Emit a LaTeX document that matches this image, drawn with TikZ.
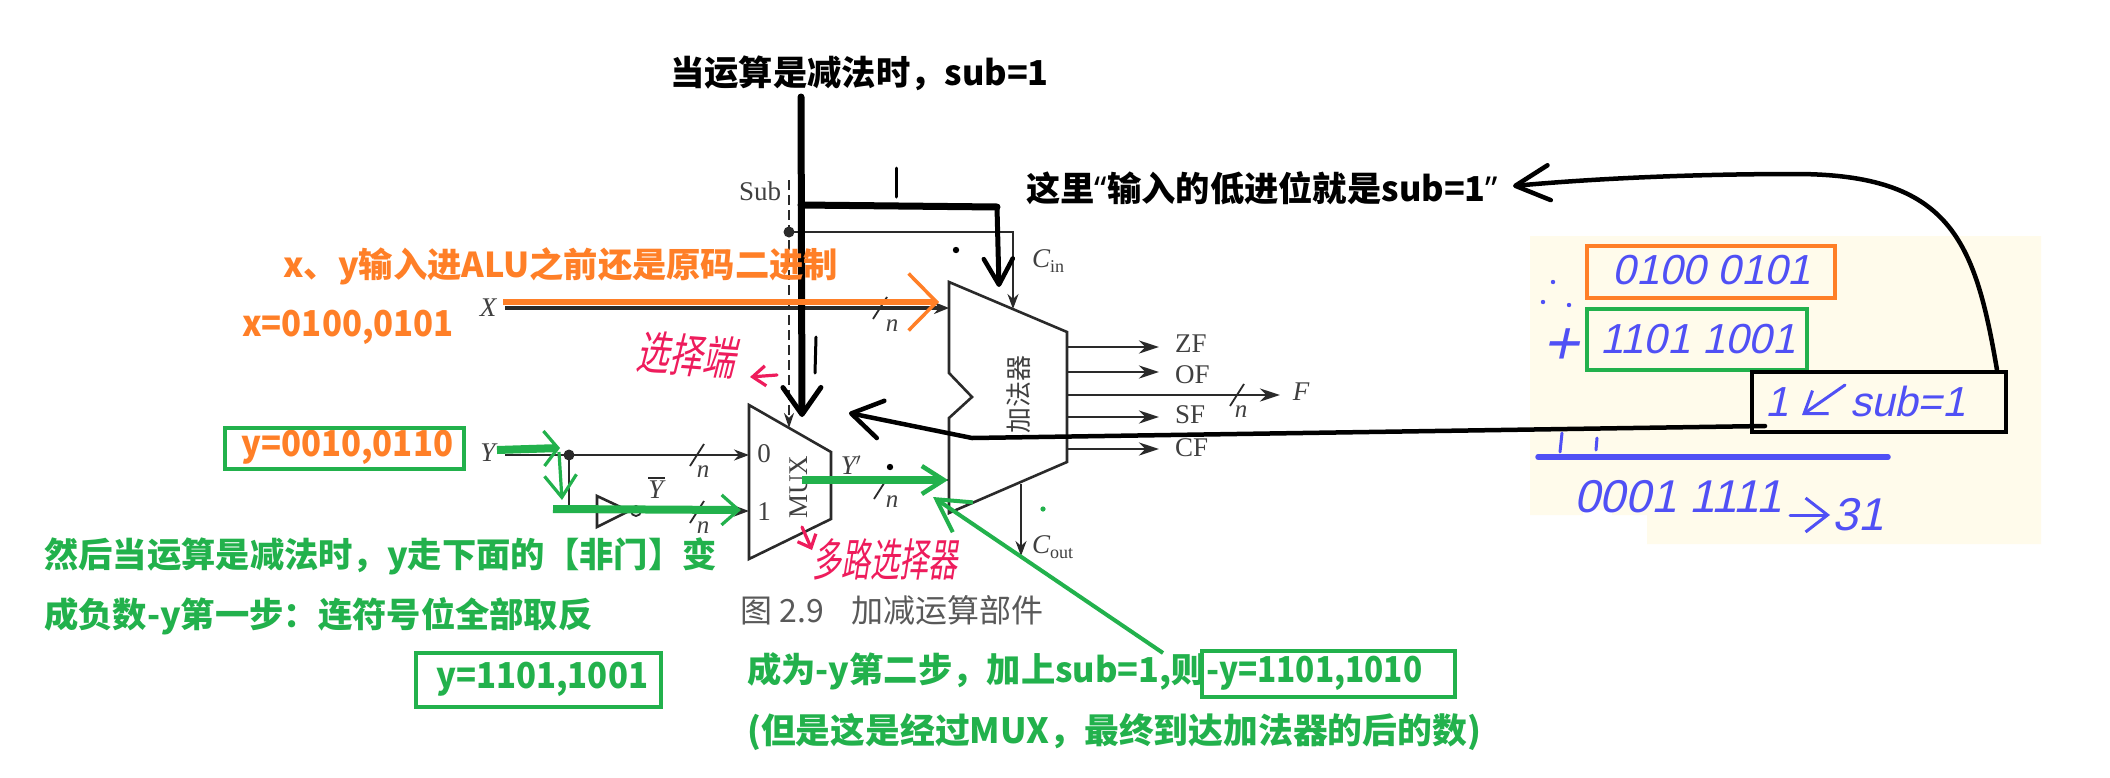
\documentclass[tikz,border=0pt]{standalone}
\usepackage{fontspec}
\usetikzlibrary{arrows.meta}
\newfontfamily\yh{Noto Sans CJK SC}
\newfontfamily\yhslant[FakeSlant=0.25]{Noto Sans CJK SC}
\newfontfamily\hand[FakeSlant=0.22]{Liberation Sans}
\newfontfamily\serifl{Liberation Serif}
\newcommand{\fsz}[1]{\fontsize{#1}{#1}\selectfont}
\newcommand{\nrw}[2]{\scalebox{#1}[1.04]{#2}}
\definecolor{ora}{HTML}{FF7F27}
\definecolor{grn}{HTML}{22B14C}
\definecolor{blu}{HTML}{5050F5}
\definecolor{rd}{HTML}{EE1C5C}
\definecolor{crm}{HTML}{FFFBEB}
\definecolor{wirec}{HTML}{2A2A2A}
\tikzset{
  wire/.style={draw=wirec,line width=1.8pt},
  wirearrow/.style={wire,-{Stealth[length=15pt,width=11pt]}},
  shapeline/.style={draw=wirec,line width=2.6pt,line join=miter},
  lbl/.style={inner sep=0pt,font=\serifl\fsz{27},text=black!75},
  lbli/.style={inner sep=0pt,font=\serifl\itshape\fsz{27},text=black!75},
  nlabel/.style={inner sep=0pt,font=\serifl\itshape\fsz{25},text=black!75},
  zh/.style={inner sep=0pt,anchor=west,font=\yh\bfseries\fsz{34.3}},
  handtext/.style={inner sep=0pt,text=blu,font=\hand\fsz{42}},
  bstroke/.style={draw=black,line width=#1,line cap=round,line join=round},
  gbox/.style={draw=grn,line width=4.5pt},
  blueline/.style={draw=blu,line width=3pt,line cap=round,line join=round},
  redline/.style={draw=rd,line width=3.2pt,line cap=round,line join=round},
  redtext/.style={inner sep=0pt,text=rd,transform shape}
}
\begin{document}
\begin{tikzpicture}[x=1pt,y=-1pt]
\useasboundingbox (0,0) rectangle (2110,777);
\fill[white] (0,0) rectangle (2110,777);
% cream note background
\fill[crm] (1530,236) -- (2041,236) -- (2041,544) -- (1647,544) -- (1647,515) -- (1612,515) -- (1612,510) -- (1583,510) -- (1583,515) -- (1530,515) -- cycle;

% ---- coordinates of the printed circuit
\coordinate (subtop) at (789,180);
\coordinate (subdot) at (789,232);
\coordinate (cincorner) at (1013,232);
\coordinate (cintip) at (1013,309);
\coordinate (muxin) at (789,428);
\coordinate (xstart) at (505,308);
\coordinate (xend) at (949,308);
\coordinate (ystart) at (505,455);
\coordinate (ydot) at (569,455);
\coordinate (mux0) at (749,455);
\coordinate (ybend) at (569,511);
\coordinate (invin) at (597,511);
\coordinate (invout) at (643,511);
\coordinate (mux1) at (749,511);
\coordinate (muxout) at (831,480);
\coordinate (addin) at (949,480);
\coordinate (coutstart) at (1021,484);
\coordinate (couttip) at (1021,556);

% adder and mux
\draw[shapeline] (949,282) -- (1067,332) -- (1067,462) -- (949,513) -- (949,418) -- (972,397) -- (949,373) -- cycle;
\draw[shapeline] (749,405) -- (831,452) -- (831,519) -- (749,559) -- cycle;
\draw[shapeline] (597,496) -- (629,511) -- (597,527) -- cycle;
\draw[wire,fill=white] (636,511) circle (5);

% wires
\draw[wire,dashed,dash pattern=on 10pt off 5pt,-{Stealth[length=15pt,width=10pt]}] (subtop) -- (muxin);
\fill[wirec] (subdot) circle (5.5);
\draw[wirearrow] (subdot) -- (cincorner) -- (cintip);
\draw[wirec,line width=3.4pt,-{Stealth[length=15pt,width=12pt]}] (xstart) -- (xend);
\draw[wirearrow] (ystart) -- (mux0);
\fill[wirec] (ydot) circle (5.5);
\draw[wire] (ydot) -- (ybend) -- (invin);
\draw[wirearrow] (invout) -- (mux1);
\draw[wire] (muxout) -- (addin);
\draw[wirearrow] (coutstart) -- (couttip);
\foreach \yy/\ex in {347/1159,372/1159,417/1159,449/1159,395/1280}
  \draw[wirec,line width=2.8pt,-{Stealth[length=20pt,width=13pt]}] (1067,\yy) -- (\ex,\yy);
% bus slashes
\foreach \sx/\sy in {880/308,697/455,697/512,881/488,1237/395}
  \draw[wire,shift={(\sx,\sy)}] (-7,11) -- (7,-11);

% printed labels
\node[lbl] (lsub) at (760,191) {Sub};
\node[lbli] (lx) at (488,308) {X};
\node[lbli] (ly) at (488,453) {Y};
\node[lbli] (lyb) at (656,490) {Y};
\draw[wirec,line width=1.8pt] (648,478) -- (665,478);
\node[lbli] (lyp) at (851,465) {Y$'$};
\node[lbl] (l0) at (764,454) {0};
\node[lbl] (l1) at (764,512) {1};
\node[lbl,rotate=90] (lmux) at (799,487) {MUX};
\node[inner sep=0pt,rotate=90,font=\yh\fsz{26},text=black!75] (ladd) at (1019,394) {加法器};
\node[lbli,anchor=west] (lcin) at (1032,261) {C\raisebox{-5pt}{\upshape\fsz{18}in}};
\node[lbli,anchor=west] (lcout) at (1032,547) {C\raisebox{-5pt}{\upshape\fsz{18}out}};
\node[nlabel] (n1) at (892,326) {n};
\node[nlabel] (n2) at (703,472) {n};
\node[nlabel] (n3) at (703,528) {n};
\node[nlabel] (n4) at (892,502) {n};
\node[nlabel] (n5) at (1241,412) {n};
\node[lbl,anchor=west] (zf) at (1175,344) {ZF};
\node[lbl,anchor=west] (of) at (1175,375) {OF};
\node[lbl,anchor=west] (sf) at (1175,415) {SF};
\node[lbl,anchor=west] (cf) at (1175,448) {CF};
\node[lbli] (ff) at (1301,392) {F};
\node[inner sep=0pt,anchor=west,font=\yh\fsz{32},text=black!65] (capn) at (740,610) {图 2.9\hspace{28pt}加减运算部件};

% ---- black annotation strokes
\coordinate (subhead) at (801,97);
\coordinate (subtip) at (802,417);
\coordinate (bendr) at (997,207);
\coordinate (bendl) at (801,205);
\coordinate (cintip2) at (999,287);
\draw[bstroke=7pt,-{Straight Barb[length=27pt,width=38pt,line width=5pt,round]}] (subhead) -- (subtip);
\draw[bstroke=7pt] (bendl) -- (bendr);
\draw[bstroke=5pt,-{Straight Barb[length=26pt,width=29pt,line width=4.5pt,round]}] (bendr) -- (cintip2);
\draw[bstroke=3pt] (896,168) -- (896,197);
\draw[bstroke=3pt] (816,337) -- (815,373);
\fill[black] (956,250) circle (3.2);
\fill[black] (890,467) circle (3.2);

% note boxes
\draw[ora,line width=4.5pt] (1587,246) rectangle (1835,298);
\draw[gbox] (1587,309) rectangle (1807,370);
\draw[draw=black,line width=4.5pt] (1752,372) rectangle (2006,432);
\coordinate (boxl) at (1765,426);
\coordinate (boxt) at (1997,370);
\coordinate (wb1) at (972,438);
\coordinate (wb2) at (849,413);
\draw[bstroke=4.5pt,-{Straight Barb[length=30pt,width=38pt,line width=4.5pt,round]}] (boxl) -- (wb1) -- (wb2);
\coordinate (curvetip) at (1513,186);
\draw[bstroke=4.5pt,-{Straight Barb[length=34pt,width=35pt,line width=4.5pt,round]}] (boxt) .. controls (1975,240) and (1950,174) .. (1795,174) .. controls (1700,174) and (1600,178) .. (curvetip);

% orange arrow
\coordinate (oa) at (503,302);
\coordinate (ob) at (939,302);
\draw[ora,line width=6pt,-{Straight Barb[length=28pt,width=57pt,line width=3.5pt]}] (oa) -- (ob);

% green arrows
\coordinate (g1a) at (497,450);\coordinate (g1b) at (560,448);
\draw[grn,line width=8pt,-{Straight Barb[length=14pt,width=35pt,line width=3.2pt]}] (g1a) -- (g1b);
\coordinate (g2a) at (559,452);\coordinate (g2b) at (562,500);
\draw[grn,line width=3.2pt,-{Straight Barb[length=22pt,width=32pt,line width=3.2pt]}] (g2a) -- (g2b);
\coordinate (g3a) at (553,509);\coordinate (g3b) at (741,510);
\draw[grn,line width=8pt,-{Straight Barb[length=17pt,width=30pt,line width=3.2pt]}] (g3a) -- (g3b);
\coordinate (g4a) at (802,480);\coordinate (g4b) at (948,480);
\draw[grn,line width=8.5pt,-{Straight Barb[length=22pt,width=28pt,line width=4.5pt]}] (g4a) -- (g4b);
\coordinate (g5a) at (1163,653);\coordinate (g5b) at (933,497);
\draw[grn,line width=4pt,-{Straight Barb[length=32pt,width=36pt,line width=4pt]}] (g5a) -- (g5b);
\fill[grn] (1043,509) circle (2.6);

% chinese annotations
\node[zh] (t1) at (670,73) {当运算是减法时，sub=1};
\node[zh] (t2) at (1026,188) {这里{\fontspec{Noto Sans}\bfseries “}输入的低进位就是sub=1{\fontspec{Noto Sans}\bfseries ”}};
\node[zh,text=ora] (t3) at (283,266) {x、y输入进ALU之前还是原码二进制};
\node[zh,text=ora] (t4) at (242,327) {\nrw{.96}{x=0100,0101}};
\node[zh,text=ora] (t5) at (241,447) {\nrw{.96}{y=0010,0110}};
\draw[gbox] (225,428) rectangle (464,469);
\node[zh,text=grn] (t6) at (44,556) {然后当运算是减法时，y走下面的【非门】变};
\node[zh,text=grn] (t7) at (44,616) {成负数-y第一步：连符号位全部取反};
\node[zh,text=grn] (t8) at (436,679) {\nrw{.96}{y=1101,1001}};
\draw[gbox] (416,653) rectangle (661,707);
\node[zh,text=grn] (t9) at (747,672) {成为-y第二步，加上sub=1,则-\nrw{.92}{y=1101,1010}};
\draw[gbox] (1202,651) rectangle (1455,697);
\node[zh,text=grn,font=\yh\bfseries\fsz{34.8}] (t10) at (747,732) {(但是这是经过MUX，最终到达加法器的后的数)};

% handwriting: red
\node[redtext,font=\yhslant\fsz{33},rotate=-4,yscale=1.4] (r1) at (686,355) {选择端};
\coordinate (ra) at (777,375);\coordinate (rb) at (750,377);
\draw[redline,-{Straight Barb[length=13pt,width=20pt,line width=3.2pt]}] (ra) -- (rb);
\node[redtext,font=\yhslant\fsz{29},yscale=1.55] (r2) at (885,559) {多路选择器};
\coordinate (rc) at (802,527);\coordinate (rd2) at (812,550);
\draw[redline,-{Straight Barb[length=11pt,width=20pt,line width=3.2pt]}] (rc) -- (rd2);

% handwriting: blue
\node[handtext] (h1) at (1712,270) {0100 0101};
\node[handtext,font=\hand\fsz{42}] (h2) at (1698,339) {1101 1001};
\node[handtext,font=\hand\fsz{62}] (hp) at (1561,347) {+};
\fill[blu] (1553,282) circle (2.2) (1543,302) circle (2.2) (1569,305) circle (2.2);
\node[handtext] (h3) at (1777,402) {1};
\coordinate (ha) at (1845,385);\coordinate (hb) at (1802,415);
\draw[blueline,-{Straight Barb[length=20pt,width=28pt,line width=3pt]}] (ha) -- (hb);
\node[handtext] (h4) at (1908,401) {sub=1};
\draw[blueline] (1562,433) -- (1560,452);
\draw[blueline] (1597,438) -- (1596,450);
\coordinate (hl) at (1538,457);\coordinate (hr) at (1888,457);
\draw[blu,line width=5.5pt,line cap=round] (hl) -- (hr);
\node[handtext,font=\hand\fsz{46}] (h5) at (1678,497) {0001 1111};
\coordinate (hc) at (1790,515);\coordinate (hd) at (1830,515);
\draw[blueline,-{Straight Barb[length=22pt,width=34pt,line width=3pt]}] (hc) -- (hd);
\node[handtext,font=\hand\fsz{46}] (h6) at (1858,515) {31};
\end{tikzpicture}
\end{document}
